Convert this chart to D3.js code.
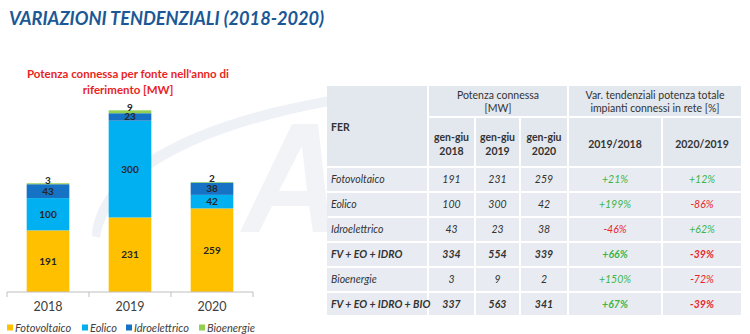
<!DOCTYPE html>
<html>
<head>
<meta charset="utf-8">
<script src="https://cdn.jsdelivr.net/npm/d3@7/dist/d3.min.js"></script>
<style>
  html, body { margin: 0; padding: 0; background: #fff; }
  svg { display: block; font-family: Lato, "Open Sans", sans-serif; }
</style>
</head>
<body>
<svg id="chart" width="750" height="334"></svg>
<script>
// ---- data ----
const years = ["2018", "2019", "2020"];
const seriesKeys = ["Fotovoltaico", "Eolico", "Idroelettrico", "Bioenergie"];
const fotovoltaico = [191, 231, 259];
const eolico = [100, 300, 42];
const idroelettrico = [43, 23, 38];
const bioenergie = [3, 9, 2];
const seriesColors = ["#FFC000", "#00B0F0", "#1672C4", "#92D050"];

const tableRows = ["Fotovoltaico", "Eolico", "Idroelettrico", "FV + EO + IDRO", "Bioenergie", "FV + EO + IDRO + BIO"];
const boldRows = [false, false, false, true, false, true];
const tableValues = [
  [191, 231, 259],
  [100, 300, 42],
  [43, 23, 38],
  [334, 554, 339],
  [3, 9, 2],
  [337, 563, 341]
];
const var2019on2018 = ["+21%", "+199%", "-46%", "+66%", "+150%", "+67%"];
const var2020on2019 = ["+12%", "-86%", "+62%", "-39%", "-72%", "-39%"];
const periodLabels = ["gen-giu", "gen-giu", "gen-giu"];
const ratioLabels = ["2019/2018", "2020/2019"];

const svg = d3.select("#chart");

// ---- faint background logo (swoosh + slanted letter shape) ----
const bg = svg.append("g");
bg.append("path")
  .attr("d", "M92,236 C96,170 190,120 330,96 L330,106 C210,128 112,170 100,238 Z")
  .attr("fill", "#eef2f7");
bg.append("path")
  .attr("d", "M240,232 L292,124 L318,124 L330,232 L313,232 L309,206 L272,206 L259,232 Z M279,191 L307,191 L302,146 Z")
  .attr("fill-rule", "evenodd")
  .attr("fill", "#f1f3f7");

// ---- title ----
svg.append("text")
  .attr("x", 9).attr("y", 25)
  .attr("font-size", 19).attr("font-weight", 700).attr("font-style", "italic")
  .attr("fill", "#1b5895")
  .attr("textLength", 315).attr("lengthAdjust", "spacingAndGlyphs")
  .text("VARIAZIONI TENDENZIALI (2018-2020)");

// ---- stacked bar chart ----
const chartTitle = svg.append("text")
  .attr("text-anchor", "middle")
  .attr("font-size", 11.5).attr("font-weight", 700)
  .attr("fill", "#e8251f");
chartTitle.append("tspan").attr("x", 128).attr("y", 78).text("Potenza connessa per fonte nell'anno di");
chartTitle.append("tspan").attr("x", 128).attr("y", 94).text("riferimento [MW]");

const rows = years.map((yr, i) => ({
  year: yr,
  Fotovoltaico: fotovoltaico[i],
  Eolico: eolico[i],
  Idroelettrico: idroelettrico[i],
  Bioenergie: bioenergie[i]
}));

const x = d3.scaleBand().domain(years).range([7, 253]).paddingInner(0.48).paddingOuter(0.24);
const y = d3.scaleLinear().domain([0, 600]).range([292, 98.4]);
const color = d3.scaleOrdinal().domain(seriesKeys).range(seriesColors);

const stack = d3.stack().keys(seriesKeys)(rows);

const layers = svg.append("g").selectAll("g")
  .data(stack).join("g")
  .attr("fill", d => color(d.key));

layers.selectAll("rect")
  .data(d => d.map(p => Object.assign(p, { key: d.key })))
  .join("rect")
  .attr("x", d => x(d.data.year))
  .attr("width", x.bandwidth())
  .attr("y", d => y(d[1]))
  .attr("height", d => y(d[0]) - y(d[1]));

// value labels
const labelG = svg.append("g")
  .attr("text-anchor", "middle")
  .attr("font-size", 10).attr("font-weight", 700)
  .attr("fill", "#262626");
stack.forEach(layer => {
  layer.forEach(p => {
    const val = p[1] - p[0];
    const cx = x(p.data.year) + x.bandwidth() / 2;
    const isTop = layer.key === "Bioenergie";
    const cy = isTop ? y(p[1]) + 0.5 : (y(p[0]) + y(p[1])) / 2 + 3.5;
    labelG.append("text").attr("x", cx).attr("y", cy).text(val);
  });
});

// axis with boundary ticks
const axisG = svg.append("g").attr("transform", `translate(0,${y(0)})`);
axisG.append("line").attr("x1", 7).attr("x2", 253).attr("stroke", "#bfbfbf").attr("stroke-width", 1);
const boundaries = d3.range(years.length + 1).map(i => 7 + i * x.step());
axisG.selectAll("line.tick").data(boundaries).join("line")
  .attr("class", "tick")
  .attr("x1", d => d).attr("x2", d => d)
  .attr("y1", 0).attr("y2", 5)
  .attr("stroke", "#bfbfbf");

const xAxis = svg.append("g")
  .attr("transform", `translate(0,${y(0)})`)
  .call(d3.axisBottom(x).tickSize(0).tickPadding(10));
xAxis.select(".domain").remove();
xAxis.selectAll("text")
  .attr("font-family", "Lato, 'Open Sans', sans-serif")
  .attr("font-size", 12.5).attr("fill", "#404040");

// legend
const legendX = [7, 82, 126, 199];
const legend = svg.append("g").selectAll("g")
  .data(seriesKeys).join("g")
  .attr("transform", (d, i) => `translate(${legendX[i]},328)`);
legend.append("rect").attr("x", 0).attr("y", -3.5).attr("width", 6).attr("height", 6)
  .attr("fill", d => color(d));
legend.append("text").attr("x", 8).attr("y", 3.8)
  .attr("font-size", 11).attr("font-style", "italic").attr("fill", "#404040")
  .text(d => d);

// ---- table ----
const colEdges = [326, 428, 475, 520, 568, 662, 742];
const rowEdges = [85, 117, 167, 192, 217, 242, 267, 292, 316];
const cellFill = "#e8ecf2";
const headFill = "#e3e7ee";
const gap = 1;
const tbl = svg.append("g");

function cell(c0, c1, r0, r1, fill) {
  tbl.append("rect")
    .attr("x", colEdges[c0] + gap).attr("y", rowEdges[r0] + gap)
    .attr("width", colEdges[c1] - colEdges[c0] - 2 * gap)
    .attr("height", rowEdges[r1] - rowEdges[r0] - 2 * gap)
    .attr("fill", fill);
}
// header cells
cell(0, 1, 0, 2, headFill);
cell(1, 4, 0, 1, headFill);
cell(4, 6, 0, 1, headFill);
for (let c = 1; c < 6; c++) cell(c, c + 1, 1, 2, headFill);
// body cells
for (let r = 0; r < tableRows.length; r++)
  for (let c = 0; c < 6; c++) cell(c, c + 1, r + 2, r + 3, cellFill);

const colMid = c => (colEdges[c] + colEdges[c + 1]) / 2;
const txt = tbl.append("g").attr("font-size", 10.5).attr("fill", "#333");

txt.append("text").attr("x", 331).attr("y", 131).attr("font-weight", 700).text("FER");

function twoLine(xc, y1, y2, l1, l2, bold) {
  const t = txt.append("text").attr("text-anchor", "middle").attr("font-weight", bold ? 700 : 400);
  t.append("tspan").attr("x", xc).attr("y", y1).text(l1);
  t.append("tspan").attr("x", xc).attr("y", y2).text(l2);
}
twoLine((colEdges[1] + colEdges[4]) / 2, 98.5, 112, "Potenza connessa", "[MW]", false);
twoLine((colEdges[4] + colEdges[6]) / 2, 98.5, 112, "Var. tendenziali potenza totale", "impianti connessi in rete [%]", false);
years.forEach((yr, i) => twoLine(colMid(i + 1), 140.5, 154.5, periodLabels[i], yr, true));
ratioLabels.forEach((lab, i) =>
  txt.append("text").attr("x", colMid(i + 4)).attr("y", 147.5)
    .attr("text-anchor", "middle").attr("font-weight", 700).text(lab));

const sign = s => s.startsWith("-") ? "#e8262b" : "#3cb54a";
tableRows.forEach((name, r) => {
  const yc = (rowEdges[r + 2] + rowEdges[r + 3]) / 2 + 3.8;
  const fw = boldRows[r] ? 700 : 400;
  txt.append("text").attr("x", 331).attr("y", yc)
    .attr("font-style", "italic").attr("font-weight", fw).text(name);
  tableValues[r].forEach((v, c) =>
    txt.append("text").attr("x", colMid(c + 1)).attr("y", yc)
      .attr("text-anchor", "middle").attr("font-style", "italic").attr("font-weight", fw).text(v));
  [var2019on2018[r], var2020on2019[r]].forEach((p, c) =>
    txt.append("text").attr("x", colMid(c + 4)).attr("y", yc)
      .attr("text-anchor", "middle").attr("font-style", "italic").attr("font-weight", fw)
      .attr("fill", sign(p)).text(p));
});
</script>
</body>
</html>
